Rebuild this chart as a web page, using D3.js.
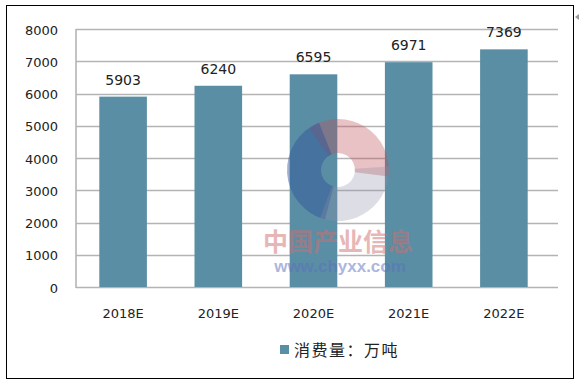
<!DOCTYPE html>
<html><head><meta charset="utf-8">
<script src="https://cdn.jsdelivr.net/npm/d3@7/dist/d3.min.js"></script>
<style>body{margin:0;background:#fff}svg{display:block}</style>
</head><body>
<script>
const categories = ["2018E","2019E","2020E","2021E","2022E"];
const values = [5903, 6240, 6595, 6971, 7369];
const yTicks = [0,1000,2000,3000,4000,5000,6000,7000,8000];
const seriesName = "消费量：万吨";

const W = 579, H = 389;
const svg = d3.select("body").append("svg").attr("width", W).attr("height", H);
svg.append("rect").attr("width", W).attr("height", H).attr("fill", "#fff");

// outer frame
svg.append("rect").attr("x", 6.5).attr("y", 5.5).attr("width", 567).attr("height", 373)
  .attr("fill", "none").attr("stroke", "#000").attr("stroke-width", 1);
svg.append("path").attr("d", "M575,17 L579,14 L579,20 Z").attr("fill", "#999");

const x = d3.scaleBand().domain(categories).range([75.5, 551.5]).paddingInner(0.5).paddingOuter(0.25);
const y = d3.scaleLinear().domain([0, 8000]).range([287, 29]);
const left = 76, right = 558;
const font = "'DejaVu Sans', Verdana, sans-serif";

// gridlines
svg.append("g").selectAll("line").data(yTicks).join("line")
  .attr("x1", left).attr("x2", right)
  .attr("y1", d => Math.round(y(d)) + 0.5).attr("y2", d => Math.round(y(d)) + 0.5)
  .attr("stroke", "#b4b4b4").attr("stroke-width", 1.6);
svg.append("line").attr("x1", left).attr("x2", left).attr("y1", y(8000)).attr("y2", y(0) + 1)
  .attr("stroke", "#b4b4b4").attr("stroke-width", 1.6);

// y tick labels
svg.append("g").selectAll("text").data(yTicks).join("text")
  .attr("x", 58).attr("y", d => y(d) + 5.5).attr("text-anchor", "end")
  .attr("font-family", font).attr("font-size", 13).attr("fill", "#222")
  .text(d => d);

// bars
svg.append("g").selectAll("rect").data(values).join("rect")
  .attr("x", (d, i) => x(categories[i])).attr("width", x.bandwidth())
  .attr("y", d => y(d)).attr("height", d => y(0) - y(d))
  .attr("fill", "#5a8ea4");

// value labels
svg.append("g").selectAll("text").data(values).join("text")
  .attr("x", (d, i) => x(categories[i]) + x.bandwidth() / 2)
  .attr("y", d => y(d) - 12).attr("text-anchor", "middle")
  .attr("font-family", font).attr("font-size", 14).attr("fill", "#222")
  .text(d => d);

// x labels
svg.append("g").selectAll("text").data(categories).join("text")
  .attr("x", d => x(d) + x.bandwidth() / 2).attr("y", 318).attr("text-anchor", "middle")
  .attr("font-family", font).attr("font-size", 13).attr("fill", "#222")
  .text(d => d);

// watermark
const wm = svg.append("g").attr("transform", "translate(338,170)");
const arc = d3.arc().innerRadius(17).outerRadius(51);
wm.append("path").attr("d", arc({startAngle: -0.6, endAngle: 1.7})).attr("fill", "#c0505a").attr("opacity", 0.35);
wm.append("path").attr("d", arc({startAngle: 3.4, endAngle: 5.9})).attr("fill", "#2c4f9a").attr("opacity", 0.45);
wm.append("path").attr("d", arc({startAngle: 1.5, endAngle: 3.5})).attr("fill", "#8e8ea8").attr("opacity", 0.3);
svg.append("text").attr("x", 338).attr("y", 251).attr("text-anchor", "middle")
  .attr("font-family", "'Noto Sans CJK SC', sans-serif").attr("font-weight", "bold").attr("font-size", 25)
  .attr("fill", "#d07070").attr("opacity", 0.5).text("中国产业信息");
svg.append("text").attr("x", 340).attr("y", 272).attr("text-anchor", "middle")
  .attr("font-family", "Arial, 'Liberation Sans', sans-serif").attr("font-weight", "bold").attr("font-size", 17)
  .attr("fill", "#5a70c0").attr("opacity", 0.5).text("www.chyxx.com");

// legend
svg.append("rect").attr("x", 280).attr("y", 345).attr("width", 9).attr("height", 9).attr("fill", "#5a8ea4");
svg.append("text").attr("x", 294).attr("y", 356)
  .attr("font-family", "'Noto Sans CJK SC', sans-serif").attr("font-size", 16).attr("letter-spacing", 1.5).attr("fill", "#222")
  .text(seriesName);
</script>
</body></html>
